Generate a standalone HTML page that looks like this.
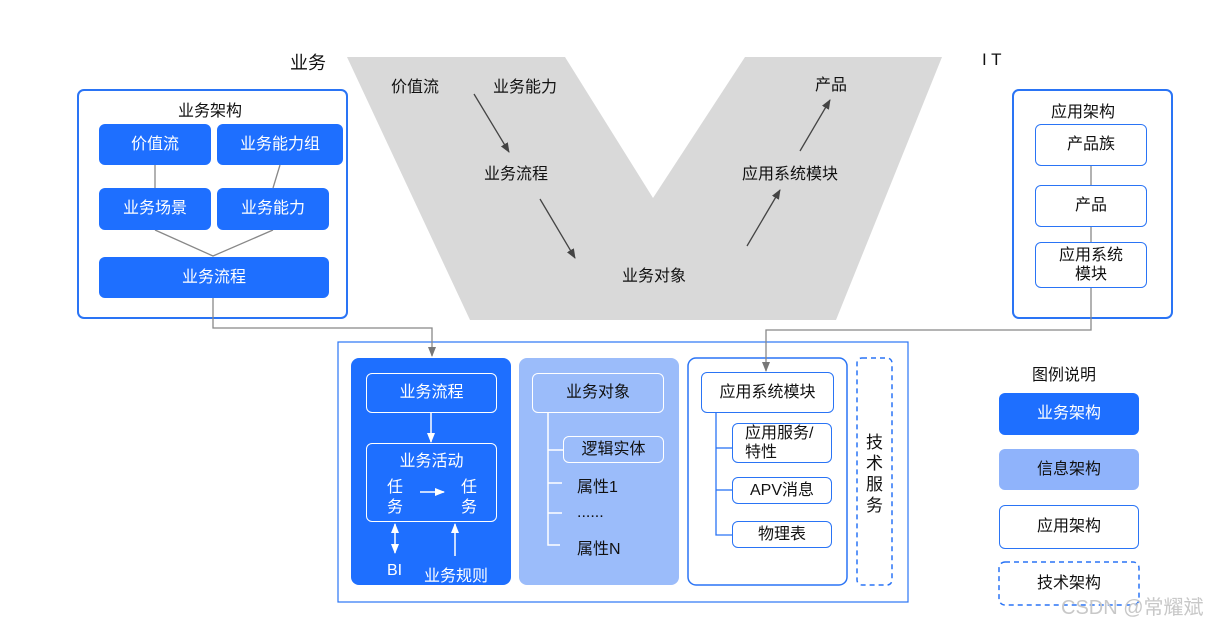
<!DOCTYPE html>
<html><head><meta charset="utf-8"><style>
body{margin:0;width:1224px;height:624px;background:#fff;position:relative;overflow:hidden;font-family:"Liberation Sans","Noto Sans CJK SC",sans-serif;font-size:16px;color:#111}
.a{position:absolute;box-sizing:border-box;display:flex;align-items:center;justify-content:center;text-align:center;line-height:1.2}
.b{background:#1e6fff;color:#fff;border-radius:6px}
.w{background:#fff;border:1.5px solid #2a74f5;border-radius:6px}
.o{border:1.5px solid #fff;border-radius:6px;color:#fff}
.lo{border:1.5px solid #fff;border-radius:6px}
.t{position:absolute;white-space:nowrap}
svg{position:absolute;left:0;top:0}
</style></head><body>
<svg width="1224" height="624">
<defs><marker id="m" markerUnits="userSpaceOnUse" markerWidth="10" markerHeight="10" refX="9" refY="5" orient="auto"><path d="M0,1L10,5L0,9z" fill="#444"/></marker>
<marker id="mw" markerUnits="userSpaceOnUse" markerWidth="10" markerHeight="10" refX="9" refY="5" orient="auto-start-reverse"><path d="M0,1L10,5L0,9z" fill="#fff"/></marker>
<marker id="mg" markerUnits="userSpaceOnUse" markerWidth="10" markerHeight="10" refX="9" refY="5" orient="auto"><path d="M0,1L10,5L0,9z" fill="#777"/></marker></defs>
<polygon points="347,57 565,57 653,198 745,57 942,57 836,320 470,320" fill="#d9d9d9"/>
<line x1="474" y1="94" x2="509" y2="152" stroke="#444" stroke-width="1.3" marker-end="url(#m)"/>
<line x1="540" y1="199" x2="575" y2="258" stroke="#444" stroke-width="1.3" marker-end="url(#m)"/>
<line x1="747" y1="246" x2="780" y2="190" stroke="#444" stroke-width="1.3" marker-end="url(#m)"/>
<line x1="800" y1="151" x2="830" y2="100" stroke="#444" stroke-width="1.3" marker-end="url(#m)"/>
<rect x="78" y="90" width="269" height="228" rx="6" fill="none" stroke="#2a74f5" stroke-width="2"/>
<rect x="1013" y="90" width="159" height="228" rx="6" fill="none" stroke="#2a74f5" stroke-width="2"/>
<rect x="338" y="342" width="570" height="260" fill="none" stroke="#2a74f5" stroke-width="1.2"/>
<rect x="351" y="358" width="160" height="227" rx="8" fill="#1e6fff"/>
<rect x="519" y="358" width="160" height="227" rx="8" fill="#9bbcfa"/>
<rect x="688" y="358" width="159" height="227" rx="8" fill="#fff" stroke="#2a74f5" stroke-width="1.5"/>
<rect x="857" y="358" width="35" height="227" rx="5" fill="none" stroke="#2a74f5" stroke-width="1.5" stroke-dasharray="5,4"/>
<rect x="999" y="562" width="140" height="43" rx="6" fill="none" stroke="#2a74f5" stroke-width="1.5" stroke-dasharray="5,4"/>
<g stroke="#888" stroke-width="1.3" fill="none">
<line x1="155" y1="165" x2="155" y2="188"/><line x1="280" y1="165" x2="273" y2="188"/>
<polyline points="155,230 213,256 273,230"/>
<polyline points="213,298 213,328 432,328 432,356" marker-end="url(#mg)"/>
<line x1="1091" y1="166" x2="1091" y2="185"/><line x1="1091" y1="227" x2="1091" y2="242"/>
<polyline points="1091,288 1091,330 766,330 766,371" marker-end="url(#mg)"/>
</g>
<g stroke="#fff" stroke-width="1.5" fill="none">
<line x1="431" y1="413" x2="431" y2="442" marker-end="url(#mw)"/>
<line x1="420" y1="492" x2="444" y2="492" marker-end="url(#mw)"/>
<line x1="395" y1="524" x2="395" y2="553" marker-start="url(#mw)" marker-end="url(#mw)"/>
<line x1="455" y1="556" x2="455" y2="524" marker-end="url(#mw)"/>
<polyline points="548,413 548,545 560,545"/><line x1="548" y1="450" x2="563" y2="450"/><line x1="548" y1="483" x2="562" y2="483"/><line x1="548" y1="513" x2="562" y2="513"/>
</g>
<g stroke="#2a74f5" stroke-width="1.3" fill="none">
<polyline points="716,413 716,535 732,535"/><line x1="716" y1="448" x2="732" y2="448"/><line x1="716" y1="490" x2="732" y2="490"/>
</g>
</svg>
<div class="t" style="left:290px;top:49px;font-size:18px">业务</div>
<div class="t" style="left:982px;top:50px;font-size:17px">I T</div>
<div class="t" style="left:391px;top:73px">价值流</div>
<div class="t" style="left:493px;top:73px">业务能力</div>
<div class="t" style="left:484px;top:160px">业务流程</div>
<div class="t" style="left:622px;top:262px">业务对象</div>
<div class="t" style="left:742px;top:160px">应用系统模块</div>
<div class="t" style="left:815px;top:71px">产品</div>
<div class="t" style="left:178px;top:97px">业务架构</div>
<div class="a b" style="left:99px;top:124px;width:112px;height:41px">价值流</div>
<div class="a b" style="left:217px;top:124px;width:126px;height:41px">业务能力组</div>
<div class="a b" style="left:99px;top:188px;width:112px;height:42px">业务场景</div>
<div class="a b" style="left:217px;top:188px;width:112px;height:42px">业务能力</div>
<div class="a b" style="left:99px;top:257px;width:230px;height:41px">业务流程</div>
<div class="t" style="left:1051px;top:98px">应用架构</div>
<div class="a w" style="left:1035px;top:124px;width:112px;height:42px">产品族</div>
<div class="a w" style="left:1035px;top:185px;width:112px;height:42px">产品</div>
<div class="a w" style="left:1035px;top:242px;width:112px;height:46px">应用系统<br>模块</div>
<div class="a o" style="left:366px;top:373px;width:131px;height:40px">业务流程</div>
<div class="a o" style="left:366px;top:443px;width:131px;height:79px;align-items:flex-start;padding-top:8px">业务活动</div>
<div class="t" style="left:387px;top:478px;color:#fff;line-height:20px">任<br>务</div>
<div class="t" style="left:461px;top:478px;color:#fff;line-height:20px">任<br>务</div>
<div class="t" style="left:387px;top:562px;color:#fff">BI</div>
<div class="t" style="left:424px;top:562px;color:#fff">业务规则</div>
<div class="a lo" style="left:532px;top:373px;width:132px;height:40px">业务对象</div>
<div class="a lo" style="left:563px;top:436px;width:101px;height:27px">逻辑实体</div>
<div class="t" style="left:577px;top:473px">属性1</div>
<div class="t" style="left:577px;top:504px">......</div>
<div class="t" style="left:577px;top:535px">属性N</div>
<div class="a w" style="left:701px;top:372px;width:133px;height:41px">应用系统模块</div>
<div class="a w" style="left:732px;top:423px;width:100px;height:40px;justify-content:flex-start;text-align:left;padding-left:12px">应用服务/<br>特性</div>
<div class="a w" style="left:732px;top:477px;width:100px;height:27px">APV消息</div>
<div class="a w" style="left:732px;top:521px;width:100px;height:27px">物理表</div>
<div class="t" style="left:866px;top:432px;line-height:21px;font-size:17px">技<br>术<br>服<br>务</div>
<div class="t" style="left:1032px;top:361px">图例说明</div>
<div class="a b" style="left:999px;top:393px;width:140px;height:42px">业务架构</div>
<div class="a" style="left:999px;top:449px;width:140px;height:41px;background:#8fb3fb;border-radius:6px">信息架构</div>
<div class="a w" style="left:999px;top:505px;width:140px;height:44px">应用架构</div>
<div class="a" style="left:999px;top:562px;width:140px;height:43px">技术架构</div>
<div class="t" style="left:1061px;top:591px;font-size:20px;color:#c8c8c8">CSDN @常耀斌</div>
</body></html>
